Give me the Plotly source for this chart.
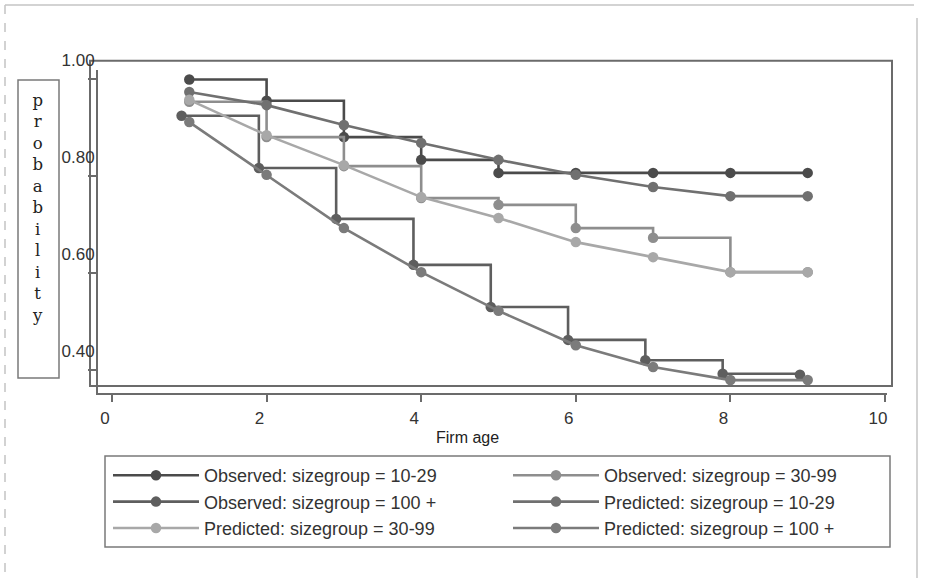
import plotly.graph_objects as go

# ---- data -------------------------------------------------------------
ages = [1, 2, 3, 4, 5, 6, 7, 8, 9]

obs_10_29 = [1.000, 0.956, 0.881, 0.834, 0.807, 0.807, 0.807, 0.807, 0.807]
obs_30_99 = [0.954, 0.881, 0.821, 0.755, 0.741, 0.693, 0.673, 0.602, 0.602]
obs_100p = [0.925, 0.817, 0.712, 0.617, 0.530, 0.462, 0.420, 0.392, 0.390]
pred_10_29 = [0.974, 0.947, 0.906, 0.869, 0.834, 0.803, 0.778, 0.759, 0.759]
pred_30_99 = [0.958, 0.885, 0.823, 0.757, 0.714, 0.664, 0.633, 0.602, 0.602]
pred_100p = [0.912, 0.803, 0.693, 0.602, 0.522, 0.451, 0.406, 0.379, 0.379]

x_ticks = [0, 2, 4, 6, 8, 10]
y_ticks = [0.40, 0.60, 0.80, 1.00]
y_tick_text = ["0.40", "0.60", "0.80", "1.00"]

# ---- page geometry (pixels) -------------------------------------------
W, H = 927, 578
L, T, B = 98, 70, 393          # left / top / bottom of the plot area
AXIS_END = 887                 # right end of the x axis line
GS_R = 907                     # right edge of the layout box (room for a 2-column legend)
OBS_100_SHIFT = -0.1           # small horizontal offset of the 100+ steps


def px(p):
    return (p - L) / (GS_R - L)


def py(p):
    return (B - p) / (B - T)


SANS = "Liberation Sans"
AXIS_GREY = "#6b6b6b"

series = [
    ("Observed: sizegroup = 10-29", ages, obs_10_29, "#4b4b4b", "hv"),
    ("Observed: sizegroup = 30-99", ages, obs_30_99, "#8e8e8e", "hv"),
    ("Observed: sizegroup = 100 +", [a + OBS_100_SHIFT for a in ages], obs_100p, "#5e5e5e", "hv"),
    ("Predicted: sizegroup = 10-29", ages, pred_10_29, "#707070", "linear"),
    ("Predicted: sizegroup = 30-99", ages, pred_30_99, "#a8a8a8", "linear"),
    ("Predicted: sizegroup = 100 +", ages, pred_100p, "#7b7b7b", "linear"),
]

fig = go.Figure()
for name, xs, ys, col, shape in series:
    fig.add_trace(go.Scatter(
        x=xs, y=ys, name=name, mode="lines+markers",
        line=dict(color=col, width=2.6, shape=shape),
        marker=dict(color=col, size=10.5, symbol="circle"),
    ))

fig.update_layout(
    width=W, height=H,
    margin=dict(l=L, r=W - GS_R, t=T, b=H - B),
    paper_bgcolor="white", plot_bgcolor="white",
    font=dict(family=SANS, color="#333333"),
    xaxis=dict(
        domain=[0, px(AXIS_END)],
        range=[-0.181, 10.026], tickvals=x_ticks,
        showgrid=False, zeroline=False,
        showline=True, linecolor=AXIS_GREY, linewidth=2,
        ticks="outside", ticklen=7, tickwidth=2, tickcolor=AXIS_GREY,
        tickfont=dict(size=17, color="#333333"),
        ticklabelshift=-7, ticklabelstandoff=2,
    ),
    yaxis=dict(
        range=[0.3523, 1.0196], tickvals=y_ticks, ticktext=y_tick_text,
        showgrid=False, zeroline=False,
        showline=True, linecolor=AXIS_GREY, linewidth=2,
        ticks="outside", ticklen=8, tickwidth=2, tickcolor=AXIS_GREY,
        tickfont=dict(size=17, color="#333333"),
        ticklabelshift=-19, ticklabelstandoff=-10,
    ),
    showlegend=True,
    legend=dict(
        orientation="h", xref="container", yref="container",
        x=108 / W, y=1 - 457 / H, xanchor="left", yanchor="top",
        entrywidth=299, entrywidthmode="pixels", itemwidth=86,
        font=dict(family=SANS, size=18, color="#333333"),
        bgcolor="rgba(0,0,0,0)", borderwidth=0, traceorder="normal",
    ),
)

shapes = []
# plot frame
shapes.append(dict(type="rect", xref="paper", yref="paper",
                   x0=px(90), x1=px(892), y0=py(386), y1=py(60.7),
                   line=dict(color=AXIS_GREY, width=2), layer="below"))
# y title box
shapes.append(dict(type="rect", xref="paper", yref="paper",
                   x0=px(18), x1=px(59), y0=py(378), y1=py(80),
                   line=dict(color="#7a7a7a", width=1.5)))
# legend box
shapes.append(dict(type="rect", xref="paper", yref="paper",
                   x0=px(105), x1=px(890), y0=py(547), y1=py(456),
                   line=dict(color="#7a7a7a", width=1.5)))
# outer page border
for x0, y0, x1, y1, dash in [(5, 5, 5, 578, "dash"), (5, 5, 914, 5, "solid"),
                             (917, 18, 917, 578, "solid")]:
    shapes.append(dict(type="line", xref="paper", yref="paper",
                       x0=px(x0), y0=py(y0), x1=px(x1), y1=py(y1),
                       line=dict(color="#c4c4c4", width=1.5, dash=dash)))
fig.update_layout(shapes=shapes)

fig.add_annotation(
    xref="paper", yref="paper", x=px(37), y=py(208),
    text="<br>".join("probability"), showarrow=False,
    xanchor="center", yanchor="middle",
    font=dict(family="DejaVu Serif", size=16.5, color="#222222"),
)
fig.add_annotation(
    xref="paper", yref="paper", x=px(467), y=py(437),
    text="Firm age", showarrow=False, xanchor="center", yanchor="middle",
    font=dict(family=SANS, size=16, color="#222222"),
)

fig.write_html("out.html")
